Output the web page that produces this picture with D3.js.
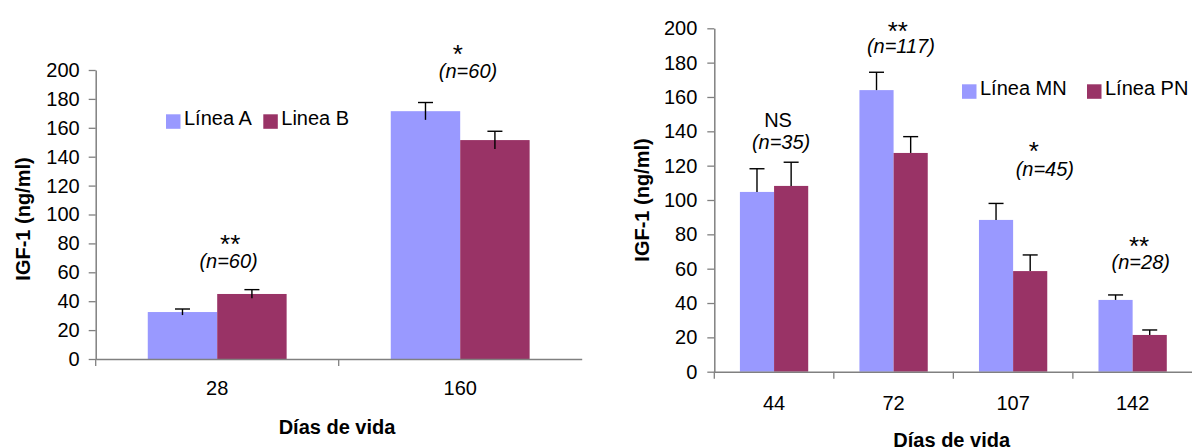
<!DOCTYPE html>
<html>
<head>
<meta charset="utf-8">
<script src="https://cdn.jsdelivr.net/npm/d3@7"></script>
<style>
    body { margin: 0; background: #fff; }
    svg { display: block; font-family: Arial, "Liberation Sans", sans-serif; }
</style>
</head>
<body>
<svg width="1192" height="447"></svg>
<script>
// left chart data
const leftDays = ["28", "160"];
const leftSeries = ["Línea A", "Linea B"];
const leftA = [32.5, 171.5];
const leftB = [45, 151.5];
const leftErrA = [2.1, 6];
const leftErrB = [3, 6.1];
const leftSig = ["**", "*"];
const leftN = ["(n=60)", "(n=60)"];

// right chart data
const rightDays = ["44", "72", "107", "142"];
const rightSeries = ["Línea MN", "Línea PN"];
const rightMN = [104.7, 164, 88.4, 41.8];
const rightPN = [108.2, 127.4, 58.6, 21.4];
const rightErrMN = [13.5, 10.4, 9.6, 2.9];
const rightErrPN = [13.8, 9.5, 9.4, 2.9];
const rightSig = ["NS", "**", "*", "**"];
const rightN = ["(n=35)", "(n=117)", "(n=45)", "(n=28)"];

const yTicks = d3.range(0, 201, 20);
const colors = ["#9999ff", "#993366"];

const svg = d3.select("svg");

function drawChart(cfg) {
    const g = svg.append("g");

    const x = d3.scaleBand()
        .domain(cfg.days)
        .range([cfg.left, cfg.right])
        .padding(0);
    const y = d3.scaleLinear()
        .domain([0, 200])
        .range([cfg.bottom, cfg.top]);

    const barW = x.bandwidth() / 3.5;  // excel gap width 150%

    // bars
    const rows = [];
    cfg.days.forEach((d, i) => {
        cfg.values.forEach((vals, s) => {
            rows.push({day: d, s: s, v: vals[i], e: cfg.errors[s][i]});
        });
    });

    const barX = r => x(r.day) + x.bandwidth() / 2 - barW + r.s * barW;

    g.selectAll("rect.bar")
        .data(rows)
        .enter().append("rect")
        .attr("class", "bar")
        .attr("x", barX)
        .attr("y", r => y(r.v))
        .attr("width", barW)
        .attr("height", r => y(0) - y(r.v))
        .attr("fill", r => colors[r.s]);

    // error bars (only the upper cap is drawn)
    const err = g.selectAll("g.err")
        .data(rows)
        .enter().append("g")
        .attr("class", "err")
        .attr("stroke", "#000")
        .attr("stroke-width", 1.4);
    err.append("line")
        .attr("x1", r => barX(r) + barW / 2)
        .attr("x2", r => barX(r) + barW / 2)
        .attr("y1", r => y(r.v + r.e))
        .attr("y2", r => cfg.bothWays ? y(r.v - r.e) : y(r.v));
    err.append("line")
        .attr("x1", r => barX(r) + barW / 2 - 7.5)
        .attr("x2", r => barX(r) + barW / 2 + 7.5)
        .attr("y1", r => y(r.v + r.e))
        .attr("y2", r => y(r.v + r.e));

    // y axis
    const yAxis = g.append("g")
        .attr("transform", `translate(${cfg.left},0)`)
        .call(d3.axisLeft(y).tickValues(yTicks).tickSize(7).tickSizeOuter(0).tickPadding(cfg.yPad));
    yAxis.select(".domain").attr("stroke", "#808080").attr("stroke-width", 1.5);
    yAxis.selectAll(".tick line").attr("stroke", "#808080").attr("stroke-width", 1.3);
    yAxis.selectAll("text").attr("font-size", 20).attr("fill", "#000").attr("font-family", null);

    // x axis
    const xAxis = g.append("g")
        .attr("transform", `translate(0,${cfg.bottom})`)
        .call(d3.axisBottom(x).tickSize(0).tickPadding(cfg.xPad));
    xAxis.select(".domain").attr("stroke", "#808080").attr("stroke-width", 1.5);
    xAxis.selectAll("text").attr("font-size", 20).attr("fill", "#000").attr("font-family", null);

    const bounds = cfg.days.map(d => x(d)).concat([cfg.right]);
    xAxis.selectAll("line.bound")
        .data(bounds.slice(0, -1))
        .enter().append("line")
        .attr("class", "bound")
        .attr("x1", d => d).attr("x2", d => d)
        .attr("y1", 0).attr("y2", 7)
        .attr("stroke", "#808080")
        .attr("stroke-width", 1.3);

    // annotations
    cfg.days.forEach((d, i) => {
        const cx = x(d) + x.bandwidth() / 2;
        const a = cfg.notes[i];
        g.append("text")
            .attr("x", cx + a.sigDx)
            .attr("y", y(a.sigY))
            .attr("text-anchor", "middle")
            .attr("font-size", cfg.sig[i] === "NS" ? 20 : 26)
            .text(cfg.sig[i]);
        g.append("text")
            .attr("x", cx + a.nDx)
            .attr("y", y(a.nY))
            .attr("text-anchor", "middle")
            .attr("font-size", 20)
            .attr("font-style", "italic")
            .text(cfg.n[i]);
    });

    // titles
    g.append("text")
        .attr("x", cfg.xTitle[0])
        .attr("y", cfg.xTitle[1])
        .attr("text-anchor", "middle")
        .attr("font-size", 20)
        .attr("font-weight", "bold")
        .text("Días de vida");

    g.append("text")
        .attr("transform", `translate(${cfg.yTitle[0]},${cfg.yTitle[1]}) rotate(-90)`)
        .attr("text-anchor", "middle")
        .attr("font-size", 20)
        .attr("font-weight", "bold")
        .text("IGF-1 (ng/ml)");

    // legend
    const leg = g.append("g");
    cfg.series.forEach((name, s) => {
        const lx = cfg.legend[s];
        leg.append("rect")
            .attr("x", lx)
            .attr("y", cfg.legendY)
            .attr("width", 14.5)
            .attr("height", 14.5)
            .attr("fill", colors[s]);
        leg.append("text")
            .attr("x", lx + 18)
            .attr("y", cfg.legendY + 11)
            .attr("font-size", 20)
            .text(name);
    });
}

drawChart({
    days: leftDays, series: leftSeries,
    values: [leftA, leftB], errors: [leftErrA, leftErrB],
    sig: leftSig, n: leftN,
    notes: [
        {sigDx: 13, sigY: 73.4, nDx: 11.4, nY: 63},
        {sigDx: -2.5, sigY: 204.8, nDx: 7.8, nY: 194.7}
    ],
    left: 95.7, right: 581.7, top: 70, bottom: 359,
    yPad: 9, xPad: 22, bothWays: true,
    xTitle: [337, 434], yTitle: [30, 219],
    legend: [166, 263.3], legendY: 114.3
});

drawChart({
    days: rightDays, series: rightSeries,
    values: [rightMN, rightPN], errors: [rightErrMN, rightErrPN],
    sig: rightSig, n: rightN,
    notes: [
        {sigDx: 4, sigY: 142.5, nDx: 7, nY: 129.9},
        {sigDx: 4.3, sigY: 193.2, nDx: 7.3, nY: 185.8},
        {sigDx: 20.7, sigY: 123.3, nDx: 31.7, nY: 114},
        {sigDx: 6.4, sigY: 68, nDx: 8.1, nY: 60}
    ],
    left: 714.3, right: 1192.4, top: 28.3, bottom: 371.7,
    yPad: 10, xPad: 24, bothWays: false,
    xTitle: [951.7, 447], yTitle: [649, 200],
    legend: [962, 1087], legendY: 84.3
});
</script>
</body>
</html>
